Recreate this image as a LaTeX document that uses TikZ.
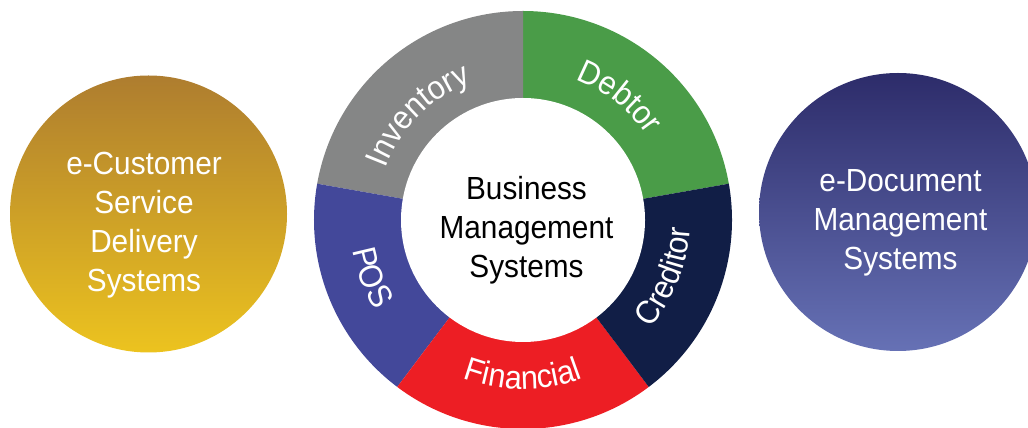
\documentclass[tikz,border=0pt]{standalone}
\usepackage{fontspec}
\setmainfont{Liberation Sans}
\newfontfamily\condfont{Liberation Sans}[FakeStretch=0.93]
\usetikzlibrary{calc,decorations.text}
\definecolor{goldtop}{HTML}{AE7D2F}
\definecolor{goldbot}{HTML}{ECC31F}
\definecolor{navytop}{HTML}{2D2C6A}
\definecolor{navybot}{HTML}{6671B5}
\definecolor{ringgray}{HTML}{858686}
\definecolor{ringgreen}{HTML}{4A9C48}
\definecolor{ringnavy}{HTML}{111E46}
\definecolor{ringred}{HTML}{ED1E24}
\definecolor{ringblue}{HTML}{43489A}
\newcommand\ringlabelfont{\condfont\fontsize{33}{38}\selectfont}
\tikzset{
  bigtext/.style={align=center, font=\condfont\fontsize{32}{39}\selectfont, inner sep=0pt},
  ringlabel/.style={decorate, decoration={text along path, text align=center, text color=white, text={|\ringlabelfont|#1}}}
}
\begin{document}
\begin{tikzpicture}[x=1pt,y=1pt]
\useasboundingbox (0,0) rectangle (1028,428);
\clip (0,0) rectangle (1028,428);
\coordinate (ring) at (523,208);
\coordinate (lc) at (148.5,214);
\coordinate (rc) at (898,216);
% side circles
\shade[top color=goldtop, bottom color=goldbot] (lc) circle[radius=138.5];
\shade[top color=navytop, bottom color=navybot] (rc) circle[radius=139];
% ring segments
\fill[ringgreen] (ring) -- ($(ring)+(10:209)$) arc[start angle=10, end angle=90, radius=209] -- cycle;
\fill[ringgray] (ring) -- ($(ring)+(90:209)$) arc[start angle=90, end angle=170, radius=209] -- cycle;
\fill[ringblue] (ring) -- ($(ring)+(170:209)$) arc[start angle=170, end angle=233, radius=209] -- cycle;
\fill[ringred] (ring) -- ($(ring)+(233:209)$) arc[start angle=233, end angle=307, radius=209] -- cycle;
\fill[ringnavy] (ring) -- ($(ring)+(307:209)$) arc[start angle=307, end angle=370, radius=209] -- cycle;
\fill[white] (ring) circle[radius=122];
% ring labels
\path[ringlabel=Inventory] ($(ring)+(180:147)$) arc[start angle=180, end angle=90, radius=147];
\path[ringlabel=Debtor] ($(ring)+(97:150)$) arc[start angle=97, end angle=7, radius=150];
\path[ringlabel=Creditor] ($(ring)+(-61.6:167)$) arc[start angle=-61.6, end angle=18.4, radius=167];
\path[ringlabel=Financial] ($(ring)+(-130:169)$) arc[start angle=-130, end angle=-50, radius=169];
\path[ringlabel=POS] ($(ring)+(160.7:173)$) arc[start angle=160.7, end angle=240.7, radius=173];
% texts
\node[bigtext, text=white] (cust) at (144,202.6) {e-Customer\\Service\\Delivery\\Systems};
\node[bigtext, text=black] (bms) at (526.5,198.1) {Business\\Management\\Systems};
\node[bigtext, text=white] (doc) at (900.5,205.6) {e-Document\\Management\\Systems};
\end{tikzpicture}
\end{document}
